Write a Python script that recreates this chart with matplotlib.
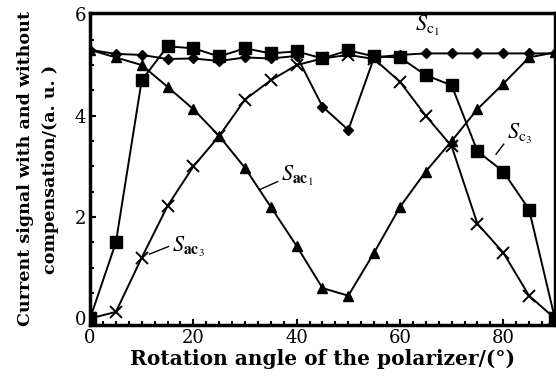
import numpy as np
import matplotlib.pyplot as plt
from matplotlib.ticker import MultipleLocator

# polarizer rotation angle, degrees
angle = [0, 5, 10, 15, 20, 25, 30, 35, 40, 45, 50, 55, 60, 65, 70, 75, 80, 85, 90]

# signal with compensation
s_c1 = [5.3, 5.22, 5.2, 5.12, 5.13, 5.08, 5.15, 5.13, 5.18, 4.18, 3.72, 5.15,
        5.2, 5.23, 5.23, 5.23, 5.23, 5.23, 5.23]
s_c3 = [0.0, 1.5, 4.7, 5.37, 5.33, 5.17, 5.33, 5.23, 5.27, 5.13, 5.29, 5.17,
        5.15, 4.8, 4.6, 3.3, 2.9, 2.15, 0.0]

# signal without compensation
s_ac1 = [5.3, 5.15, 5.0, 4.57, 4.13, 3.6, 2.97, 2.2, 1.43, 0.6, 0.45, 1.3,
         2.2, 2.9, 3.5, 4.13, 4.63, 5.15, 5.25]
s_ac3 = [0.0, 0.13, 1.2, 2.22, 3.0, 3.6, 4.32, 4.7, 5.0, 5.13, 5.2, 5.12,
         4.67, 4.0, 3.4, 1.87, 1.3, 0.45, 0.0]

plt.rcParams['font.family'] = ['DejaVu Serif']
plt.rcParams['mathtext.fontset'] = 'stix'

fig = plt.figure(figsize=(5.56, 3.78), dpi=100)
ax = fig.add_axes([0.162, 0.14, 0.836, 0.826])

kw = dict(color='black', lw=1.4)
ax.plot(angle, s_c1, marker='D', ms=5.5, **kw)
ax.plot(angle, s_c3, marker='s', ms=8, **kw)
ax.plot(angle, s_ac1, marker='^', ms=7.5, **kw)
ax.plot(angle, s_ac3, marker='x', ms=9, mew=1.4, **kw)

ax.set_xlim(0, 90)
ax.set_ylim(-0.13, 6.03)
ax.xaxis.set_major_locator(MultipleLocator(20))
ax.xaxis.set_minor_locator(MultipleLocator(2.5))
ax.yaxis.set_major_locator(MultipleLocator(2))
ax.yaxis.set_minor_locator(MultipleLocator(0.5))
ax.tick_params(which='both', direction='in', top=False, right=False,
               labelsize=13, width=1.5)
ax.tick_params(which='major', length=4, pad=3)
ax.tick_params(which='minor', length=3)
for sp in ax.spines.values():
    sp.set_linewidth(2.5)

ax.set_xlabel('Rotation angle of the polarizer/(°)', fontsize=14.5,
              fontweight='bold', labelpad=1)
ax.set_ylabel('Current signal with and without\ncompensation/(a. u. )',
              fontsize=12.6, fontweight='bold', labelpad=11, linespacing=1.65)

# curve labels with short leader lines
ax.text(63, 5.78, r'$S_{\mathrm{c}_1}$', fontsize=16, ha='left', va='center')
ax.text(80.7, 3.64, r'$S_{\mathrm{c}_3}$', fontsize=16, ha='left', va='center')
ax.plot([78.6, 80.1], [3.24, 3.44], color='black', lw=1)
ax.text(37, 2.82, r'$S_{\mathbf{ac}_1}$', fontsize=16, ha='left', va='center')
ax.plot([32.8, 36.3], [2.54, 2.7], color='black', lw=1)
ax.text(15.8, 1.41, r'$S_{\mathbf{ac}_3}$', fontsize=16, ha='left', va='center')
ax.plot([11.5, 15.2], [1.27, 1.42], color='black', lw=1)

fig.savefig('out.png', dpi=100)
